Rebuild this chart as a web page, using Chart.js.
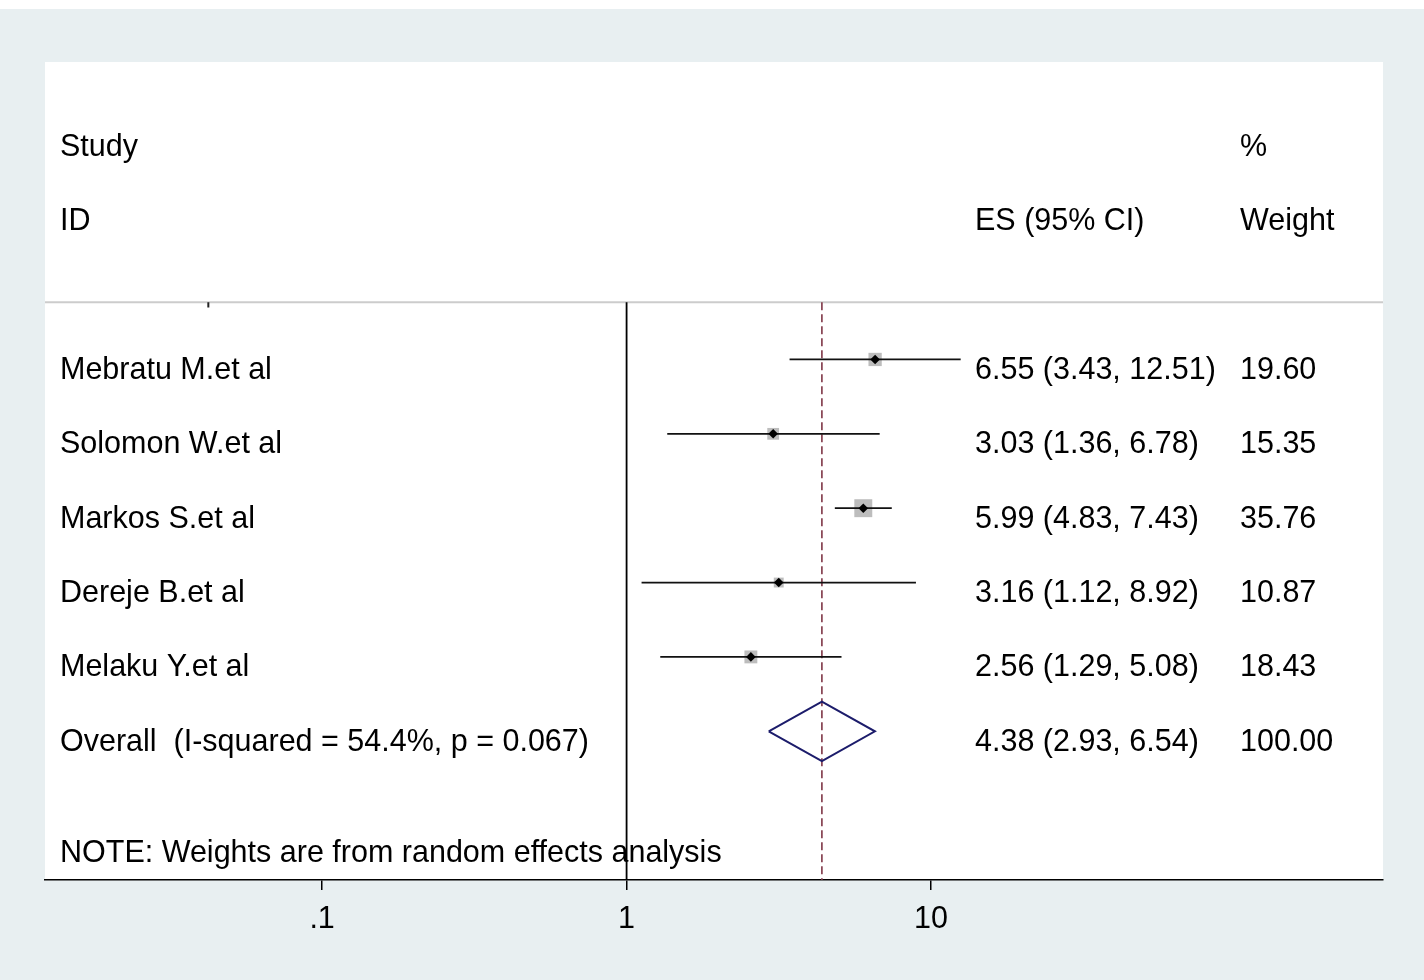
<!DOCTYPE html>
<html>
<head>
<meta charset="utf-8">
<script src="https://cdn.jsdelivr.net/npm/chart.js@4"></script>
<style>
  body { margin: 0; background: #fff; }
  canvas { display: block; }
</style>
</head>
<body>
<canvas id="chart" width="1424" height="980"></canvas>
<script>
// study data
const studies = ['Mebratu M.et al', 'Solomon W.et al', 'Markos S.et al', 'Dereje B.et al', 'Melaku Y.et al'];
const es = [6.55, 3.03, 5.99, 3.16, 2.56];
const lo = [3.43, 1.36, 4.83, 1.12, 1.29];
const hi = [12.51, 6.78, 7.43, 8.92, 5.08];
const weights = [19.60, 15.35, 35.76, 10.87, 18.43];

const overallLabel = 'Overall  (I-squared = 54.4%, p = 0.067)';
const overallEs = 4.38;
const overallLo = 2.93;
const overallHi = 6.54;
const overallWeight = 100.00;

const tickValues = [0.1, 1, 10];
const tickLabels = ['.1', '1', '10'];
const note = 'NOTE: Weights are from random effects analysis';

const FAMILY = '"Liberation Sans", Arial, sans-serif';
const FONT = '30.5px ' + FAMILY;
const SEP = 0.23;     // row of the grey separator line
const YMIN = -3.0;
const YMAX = 8.0;
const TEXT_SHIFT = 11; // Stata draws row labels a little below the marks

const datasets = [];

// grey separator under the header
datasets.push({
  data: [{ x: 0.0123, y: SEP }, { x: 305, y: SEP }],
  showLine: true, borderColor: '#cccccc', borderWidth: 2, pointRadius: 0, order: 5
});
// little stray tick on the separator
datasets.push({
  data: [{ x: 0.0423, y: SEP }, { x: 0.0423, y: SEP + 0.07 }],
  showLine: true, borderColor: '#222', borderWidth: 2, pointRadius: 0, order: 4
});
// null line at 1
datasets.push({
  data: [{ x: 1, y: SEP }, { x: 1, y: YMAX }],
  showLine: true, borderColor: '#000', borderWidth: 1.8, pointRadius: 0, order: 4
});
// overall effect dashed line
datasets.push({
  data: [{ x: overallEs, y: SEP }, { x: overallEs, y: YMAX }],
  showLine: true, borderColor: '#7e3646', borderWidth: 1.6, borderDash: [8, 4], pointRadius: 0, order: 4
});

// confidence intervals
studies.forEach((s, i) => {
  datasets.push({
    data: [{ x: lo[i], y: i + 1 }, { x: hi[i], y: i + 1 }],
    showLine: true, borderColor: '#111', borderWidth: 1.8, pointRadius: 0, order: 2
  });
});

// weight boxes (area ~ weight)
datasets.push({
  data: es.map((v, i) => ({ x: v, y: i + 1 })),
  pointStyle: 'rect',
  pointRadius: weights.map(w => 3.0 * Math.sqrt(w) / Math.SQRT2),
  backgroundColor: '#bdbdbd', borderWidth: 0, order: 3
});
// point estimates
datasets.push({
  data: es.map((v, i) => ({ x: v, y: i + 1 })),
  pointStyle: 'rectRot', pointRadius: 4.8,
  backgroundColor: '#000', borderColor: '#000', borderWidth: 0, order: 0
});

// overall diamond
const oRow = studies.length + 1;
datasets.push({
  data: [
    { x: overallLo, y: oRow }, { x: overallEs, y: oRow - 0.4 },
    { x: overallHi, y: oRow }, { x: overallEs, y: oRow + 0.4 },
    { x: overallLo, y: oRow }
  ],
  showLine: true, borderColor: '#1c1c6b', borderWidth: 2, pointRadius: 0, tension: 0, order: 1
});

const bgPlugin = {
  id: 'bg',
  beforeDraw(chart) {
    const { ctx, chartArea: a } = chart;
    ctx.save();
    ctx.fillStyle = '#e8eff1';
    ctx.fillRect(0, 0, chart.width, chart.height);
    ctx.fillStyle = '#fff';
    ctx.fillRect(0, 0, chart.width, 9);
    ctx.fillRect(a.left, a.top, a.right - a.left, a.bottom - a.top);
    ctx.restore();
  }
};

const textPlugin = {
  id: 'texts',
  afterDatasetsDraw(chart) {
    const { ctx } = chart;
    const y = chart.scales.y;
    const colLeft = 60, colEs = 975, colW = 1240;
    const at = r => y.getPixelForValue(r) + TEXT_SHIFT;
    ctx.save();
    ctx.font = FONT;
    ctx.fillStyle = '#000';
    ctx.textBaseline = 'middle';
    ctx.textAlign = 'left';
    ctx.fillText('Study', colLeft, at(-2));
    ctx.fillText('%', colW, at(-2));
    ctx.fillText('ID', colLeft, at(-1));
    ctx.fillText('ES (95% CI)', colEs, at(-1));
    ctx.fillText('Weight', colW, at(-1));
    studies.forEach((s, i) => {
      const py = at(i + 1);
      ctx.fillText(s, colLeft, py);
      ctx.fillText(`${es[i].toFixed(2)} (${lo[i].toFixed(2)}, ${hi[i].toFixed(2)})`, colEs, py);
      ctx.fillText(weights[i].toFixed(2), colW, py);
    });
    const py = at(oRow);
    ctx.fillText(overallLabel, colLeft, py);
    ctx.fillText(`${overallEs.toFixed(2)} (${overallLo.toFixed(2)}, ${overallHi.toFixed(2)})`, colEs, py);
    ctx.fillText(overallWeight.toFixed(2), colW, py);
    ctx.fillText(note, colLeft, at(7.5));
    ctx.restore();
  }
};

new Chart(document.getElementById('chart'), {
  type: 'scatter',
  data: { datasets },
  options: {
    responsive: false,
    devicePixelRatio: 1,
    animation: false,
    layout: { padding: { left: 45, right: 41, top: 62, bottom: 0 } },
    plugins: { legend: { display: false }, tooltip: { enabled: false } },
    scales: {
      x: {
        type: 'logarithmic',
        min: 0.0123,
        max: 305,
        afterBuildTicks: s => { s.ticks = tickValues.map(v => ({ value: v })); },
        afterFit: s => { s.height = 100; },
        ticks: {
          color: '#000',
          font: { family: FAMILY, size: 30.5 },
          padding: 11,
          maxRotation: 0,
          autoSkip: false,
          callback: v => tickLabels[tickValues.indexOf(v)]
        },
        grid: { drawOnChartArea: false, drawTicks: true, tickLength: 10, color: '#000', lineWidth: 1.5 },
        border: { display: true, color: '#000', width: 1.5 }
      },
      y: {
        type: 'linear',
        reverse: true,
        min: YMIN,
        max: YMAX,
        display: false
      }
    }
  },
  plugins: [bgPlugin, textPlugin]
});
</script>
</body>
</html>
